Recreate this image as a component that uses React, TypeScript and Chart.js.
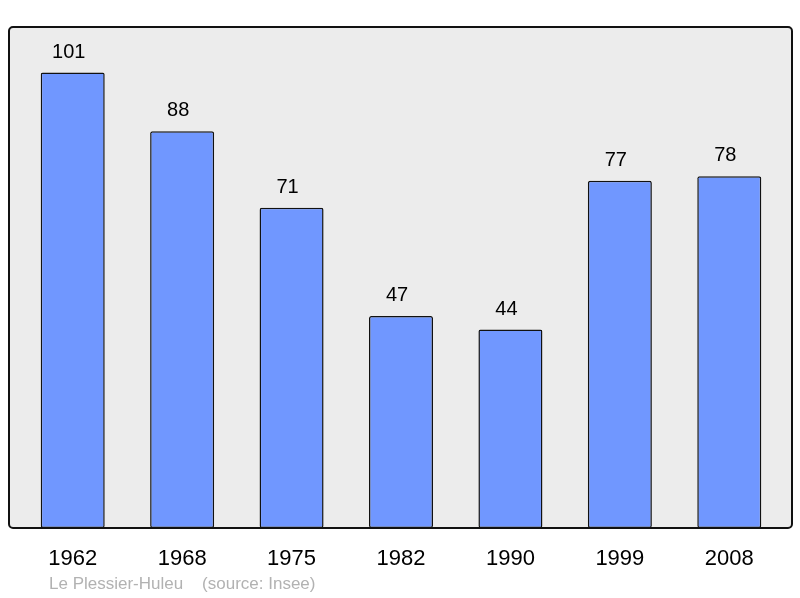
import React, { useEffect, useRef } from "react";
import { Chart, registerables } from "chart.js";

Chart.register(...registerables);

const years = ["1962", "1968", "1975", "1982", "1990", "1999", "2008"];
const population = [101, 88, 71, 47, 44, 77, 78];
const footerText = "Le Plessier-Huleu    (source: Insee)";

const FONT = '"Liberation Sans", Arial, sans-serif';

const framePlugin = {
  id: "frame",
  beforeDraw(chart: any) {
    const { ctx, chartArea } = chart;
    const x0 = chartArea.left - 9;
    const x1 = chartArea.right + 8;
    const y0 = chartArea.top;
    const y1 = chartArea.bottom;
    ctx.save();
    ctx.beginPath();
    ctx.roundRect(x0, y0, x1 - x0, y1 - y0, 4);
    ctx.fillStyle = "#ececec";
    ctx.fill();
    ctx.restore();
  },
  afterDatasetsDraw(chart: any) {
    const { ctx, chartArea } = chart;
    const x0 = chartArea.left - 9;
    const x1 = chartArea.right + 8;
    const y0 = chartArea.top;
    const y1 = chartArea.bottom;
    ctx.save();
    ctx.beginPath();
    ctx.roundRect(x0, y0, x1 - x0, y1 - y0, 4);
    ctx.lineWidth = 2;
    ctx.strokeStyle = "#111";
    ctx.stroke();

    const meta = chart.getDatasetMeta(0);
    ctx.fillStyle = "#000";
    ctx.textAlign = "center";
    ctx.textBaseline = "alphabetic";
    ctx.font = `20px ${FONT}`;
    meta.data.forEach((bar: any, i: number) => {
      ctx.fillText(String(population[i]), bar.x - 4, bar.y - 15);
    });

    const xScale = chart.scales.x;
    ctx.font = `22px ${FONT}`;
    years.forEach((y, i) => {
      ctx.fillText(y, xScale.getPixelForValue(i), 565);
    });

    ctx.textAlign = "left";
    ctx.font = `17px ${FONT}`;
    ctx.fillStyle = "#b2b2b2";
    ctx.fillText(footerText, 49, 589);
    ctx.restore();
  },
};

export default function App() {
  const ref = useRef<HTMLCanvasElement>(null);
  useEffect(() => {
    document.body.style.margin = "0";
    const chart = new Chart(ref.current!, {
      type: "bar",
      data: {
        labels: years,
        datasets: [
          {
            data: population,
            backgroundColor: "#7097ff",
            borderColor: "#111",
            borderWidth: 1.5,
            borderRadius: 2,
            borderSkipped: false,
            categoryPercentage: 1,
            barPercentage: 0.585,
          },
        ],
      },
      options: {
        animation: false,
        responsive: false,
        devicePixelRatio: 1,
        layout: { padding: { left: 18, right: 16, top: 27, bottom: 70 } },
        plugins: { legend: { display: false }, tooltip: { enabled: false } },
        scales: {
          x: { display: false },
          y: { display: false, min: 0, max: 111.1 },
        },
      },
      plugins: [framePlugin],
    });
    return () => chart.destroy();
  }, []);
  return <canvas ref={ref} width={800} height={598} style={{ display: "block" }} />;
}
